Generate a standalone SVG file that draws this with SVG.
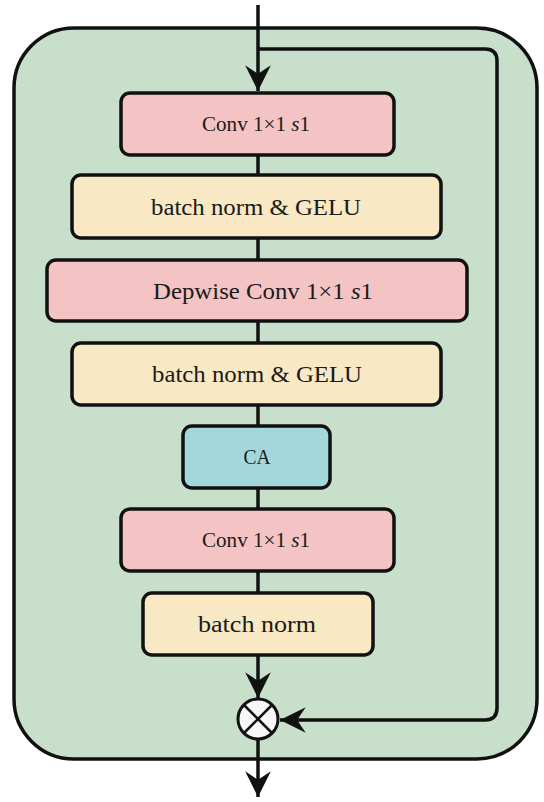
<svg xmlns="http://www.w3.org/2000/svg" width="544" height="802" viewBox="0 0 544 802">
<style>
.box{stroke:#111;stroke-width:3.5}
.pink{fill:#f4c3c3}
.yel{fill:#f8e8c4}
.blue{fill:#a2d8dc}
.ln{stroke:#111;stroke-width:3.5;fill:none}
text{font-family:'Liberation Serif','DejaVu Serif','Times New Roman',serif;fill:#1a1a1a;text-anchor:middle}
.big{font-size:23px}
.small{font-size:20px}
</style>
<defs>
<marker id="ah" markerUnits="userSpaceOnUse" markerWidth="30" markerHeight="30" viewBox="-26 -13 28 26" refX="0" refY="0" orient="auto">
<path d="M0,0 L-24,-12 L-16,0 L-24,12 Z" fill="#111"/>
</marker>
</defs>
<rect id="outer" x="14" y="28" width="523" height="731" rx="60" ry="60" fill="#c7dfcb" stroke="#111" stroke-width="3.5"/>
<g id="connectors">
<line class="ln" x1="258" y1="5" x2="258" y2="91" marker-end="url(#ah)"/>
<path class="ln" d="M258,49 H485 Q497,49 497,61 V708 Q497,720 485,720 H280" marker-end="url(#ah)"/>
<line class="ln" x1="258" y1="155" x2="258" y2="175"/>
<line class="ln" x1="258" y1="238" x2="258" y2="260"/>
<line class="ln" x1="258" y1="321" x2="258" y2="343"/>
<line class="ln" x1="258" y1="405" x2="258" y2="426"/>
<line class="ln" x1="258" y1="488" x2="258" y2="509"/>
<line class="ln" x1="258" y1="571" x2="258" y2="593"/>
<line class="ln" x1="258" y1="655" x2="258" y2="698" marker-end="url(#ah)"/>
<line class="ln" x1="258" y1="740" x2="258" y2="797" marker-end="url(#ah)"/>
</g>
<g id="conv1">
<rect class="box pink" x="121" y="93" width="273" height="62" rx="9"/>
<text class="small" x="256" y="131" textLength="108" lengthAdjust="spacingAndGlyphs">Conv 1×1 <tspan font-style="italic">s</tspan>1</text>
</g>
<g id="bn1">
<rect class="box yel" x="72" y="175" width="369" height="63" rx="9"/>
<text class="big" x="256" y="215" textLength="210" lengthAdjust="spacingAndGlyphs">batch norm &amp; GELU</text>
</g>
<g id="dwconv">
<rect class="box pink" x="47" y="260" width="420" height="61" rx="9"/>
<text class="big" x="263" y="299" textLength="220" lengthAdjust="spacingAndGlyphs">Depwise Conv 1×1 <tspan font-style="italic">s</tspan>1</text>
</g>
<g id="bn2">
<rect class="box yel" x="72" y="343" width="369" height="62" rx="9"/>
<text class="big" x="257" y="382" textLength="210" lengthAdjust="spacingAndGlyphs">batch norm &amp; GELU</text>
</g>
<g id="ca">
<rect class="box blue" x="183" y="426" width="147" height="62" rx="9"/>
<text class="small" x="257" y="464" textLength="27" lengthAdjust="spacingAndGlyphs">CA</text>
</g>
<g id="conv2">
<rect class="box pink" x="121" y="509" width="273" height="62" rx="9"/>
<text class="small" x="256" y="547" textLength="108" lengthAdjust="spacingAndGlyphs">Conv 1×1 <tspan font-style="italic">s</tspan>1</text>
</g>
<g id="bn3">
<rect class="box yel" x="143" y="593" width="230" height="62" rx="9"/>
<text class="big" x="257" y="632" textLength="118" lengthAdjust="spacingAndGlyphs">batch norm</text>
</g>
<g id="mult">
<circle cx="258" cy="719" r="20" fill="#f7f7f7" stroke="#111" stroke-width="3"/>
<line x1="244" y1="705" x2="272" y2="733" stroke="#111" stroke-width="2.5"/>
<line x1="272" y1="705" x2="244" y2="733" stroke="#111" stroke-width="2.5"/>
</g>
</svg>
